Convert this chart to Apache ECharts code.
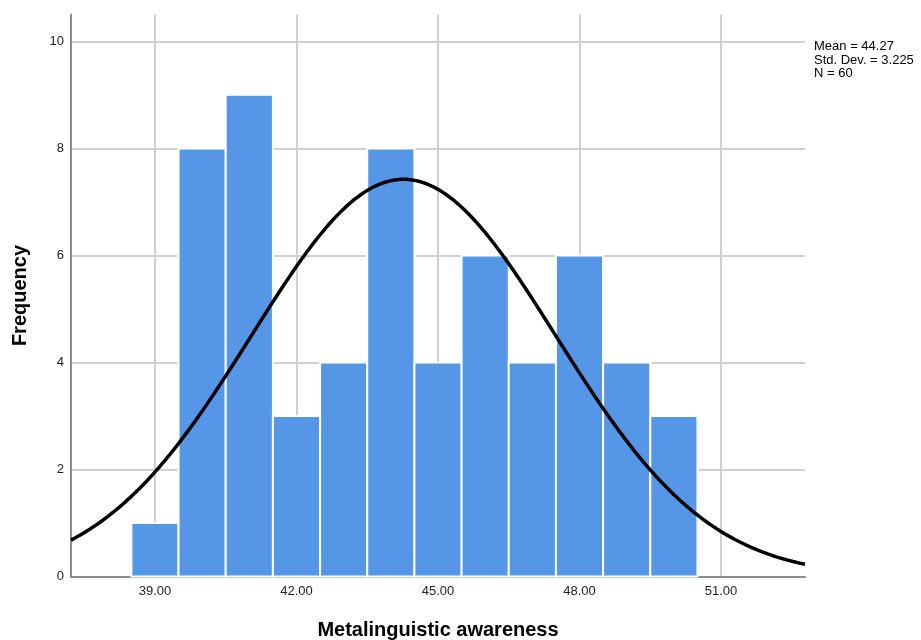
<!DOCTYPE html>
<html>
<head>
<meta charset="utf-8">
<script src="https://cdn.jsdelivr.net/npm/echarts@6/dist/echarts.min.js"></script>
<style>html,body{margin:0;padding:0;background:#fff;}#c{width:921px;height:640px;}</style>
</head>
<body>
<div id="c"></div>
<script>
// Bin centers (bin width 1) and frequencies
const binCenters = [39, 40, 41, 42, 43, 44, 45, 46, 47, 48, 49, 50];
const frequencies = [1, 8, 9, 3, 4, 8, 4, 6, 4, 6, 4, 3];
const xTickValues = [39, 42, 45, 48, 51];
const yTickValues = [0, 2, 4, 6, 8, 10];
const statsLines = ['Mean = 44.27', 'Std. Dev. = 3.225', 'N = 60'];
const fitMean = 44.27;
const fitSD = 3.225;
const fitN = 60;
const binWidth = 1;
const xMin = 37.22, xMax = 52.78;

// Normal curve overlay defined by the stated Mean / Std. Dev. / N
const curve = [];
for (let i = 0; i <= 300; i++) {
  const x = xMin + (xMax - xMin) * i / 300;
  const z = (x - fitMean) / fitSD;
  curve.push([x, fitN * binWidth / (fitSD * Math.sqrt(2 * Math.PI)) * Math.exp(-0.5 * z * z)]);
}

const chart = echarts.init(document.getElementById('c'), null, {renderer: 'canvas'});
chart.setOption({
  animation: false,
  grid: {left: 71, right: 116, top: 14.6, bottom: 63.5, containLabel: false, outerBoundsMode: 'none'},
  xAxis: {
    type: 'value', min: xMin, max: xMax,
    name: 'Metalinguistic awareness', nameLocation: 'middle', nameGap: 44,
    nameTextStyle: {fontFamily: 'Liberation Sans, Arial', fontWeight: 'bold', fontSize: 20, color: '#000'},
    axisLine: {show: true, lineStyle: {color: '#8c8c8c', width: 2}},
    axisTick: {show: false, customValues: xTickValues},
    axisLabel: {customValues: xTickValues, formatter: v => v.toFixed(2), fontFamily: 'Liberation Sans, Arial', fontSize: 13, color: '#222', margin: 8},
    splitLine: {show: true, lineStyle: {color: '#cfcfcf', width: 2}}
  },
  yAxis: {
    type: 'value', min: 0, max: 10.5,
    name: 'Frequency', nameLocation: 'middle', nameGap: 41, nameRotate: 90,
    nameTextStyle: {fontFamily: 'Liberation Sans, Arial', fontWeight: 'bold', fontSize: 20, color: '#000'},
    axisLine: {show: true, lineStyle: {color: '#8c8c8c', width: 2}},
    axisTick: {show: false, customValues: yTickValues},
    axisLabel: {customValues: yTickValues, fontFamily: 'Liberation Sans, Arial', fontSize: 13, color: '#222', margin: 7},
    splitLine: {show: true, lineStyle: {color: '#cfcfcf', width: 2}}
  },
  graphic: [{
    type: 'text', left: 814, top: 40,
    style: {text: statsLines.join('\n'), fontFamily: 'Liberation Sans, Arial', fontSize: 13, lineHeight: 13.5, fill: '#000'}
  }],
  series: [{
    type: 'custom',
    data: binCenters.map((c, i) => [c, frequencies[i]]),
    renderItem: function (params, api) {
      const c = api.value(0), f = api.value(1);
      const p0 = api.coord([c - binWidth / 2, f]);
      const p1 = api.coord([c + binWidth / 2, 0]);
      return {
        type: 'rect',
        shape: {x: p0[0], y: p0[1], width: p1[0] - p0[0], height: p1[1] - p0[1]},
        style: {fill: '#5596e6', stroke: '#ffffff', lineWidth: 2}
      };
    },
    z: 2
  }, {
    type: 'line', data: curve, showSymbol: false, smooth: false,
    lineStyle: {color: '#000', width: 3.5}, clip: true, z: 3
  }]
});
</script>
</body>
</html>
